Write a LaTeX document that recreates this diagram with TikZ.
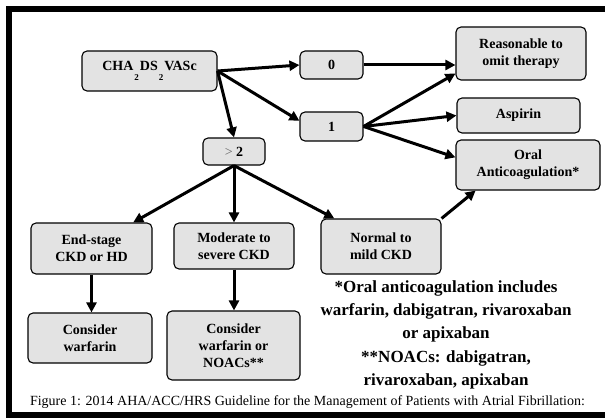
\documentclass[tikz,border=0pt]{standalone}
\usepackage{fontspec}
\setmainfont{Liberation Serif}
\usetikzlibrary{arrows.meta}
\newcommand{\subtwo}{\kern1pt\raisebox{-10pt}{\fontsize{9}{9}\selectfont 2}\kern1pt}
\begin{document}
\begin{tikzpicture}[x=1pt,y=-1pt,
    box/.style={draw,rounded corners=5pt,fill=gray!22,line width=1.1pt,
      align=center,inner sep=1pt,font=\fontsize{14}{17}\selectfont\bfseries},
    link/.style={-{Triangle[length=10pt,width=10pt]},line width=3pt},
    note/.style={align=center,font=\fontsize{17}{23}\selectfont\bfseries}]
  \useasboundingbox (0,0) rectangle (605,420);
  \def \Boxes{
    cha/149.5/71/135/40/{CHA\subtwo DS\subtwo VASc},
    zero/331.5/65/63/28/{0},
    one/331.5/126.5/63/29/{1},
    more/234/151.5/62/27/{{\mdseries\color{gray!80!black}>} 2},
    omit/521/53.5/130/53/{Reasonable to\\omit therapy},
    aspirin/518.5/115.5/123/35/{Aspirin},
    oral/528/165/144/50/{Oral\\Anticoagulation*},
    esrd/91.5/248.5/121/51/{End-stage\\CKD or HD},
    mod/234/246/120/46/{Moderate to\\severe CKD},
    mild/381/246.5/120/55/{Normal to\\mild CKD},
    warf/90/338/124/50/{Consider\\warfarin},
    noac/233.5/345.5/133/69/{Consider\\warfarin or\\NOACs**}}
  \def \Links{
    cha.east/zero.west,
    cha.east/one.170,
    cha.east/more.north,
    zero.east/zero.east -| omit.west,
    one.east/omit.197,
    one.east/aspirin.west,
    one.east/oral.174,
    more.south/esrd.32,
    more.south/mod.north,
    more.south/mild.149,
    mild.north east/oral.206,
    esrd.south/esrd.south |- warf.north,
    mod.south/mod.south |- noac.north}
  \foreach \id / \x / \y / \w / \h / \lb in \Boxes{
    \node[box,minimum width=\w pt,minimum height=\h pt] (\id) at (\x, \y) {\lb};
  }
  \foreach \a / \b in \Links{
    \draw[link] (\a) -- (\b);
  }
  \node[note] (oacnote) at (446, 311)
    {*Oral anticoagulation includes\\warfarin, dabigatran, rivaroxaban\\or apixaban};
  \node[note] (noacnote) at (446, 370) {**NOACs: dabigatran,\\rivaroxaban, apixaban};
  \node[font=\fontsize{14}{16}\selectfont] (caption) at (307.5, 402)
    {Figure 1: 2014 AHA/ACC/HRS Guideline for the Management of Patients with Atrial Fibrillation:};
  \draw[line width=6pt] (605,9) -- (9,9) -- (9,415) -- (605,415);
\end{tikzpicture}
\end{document}
